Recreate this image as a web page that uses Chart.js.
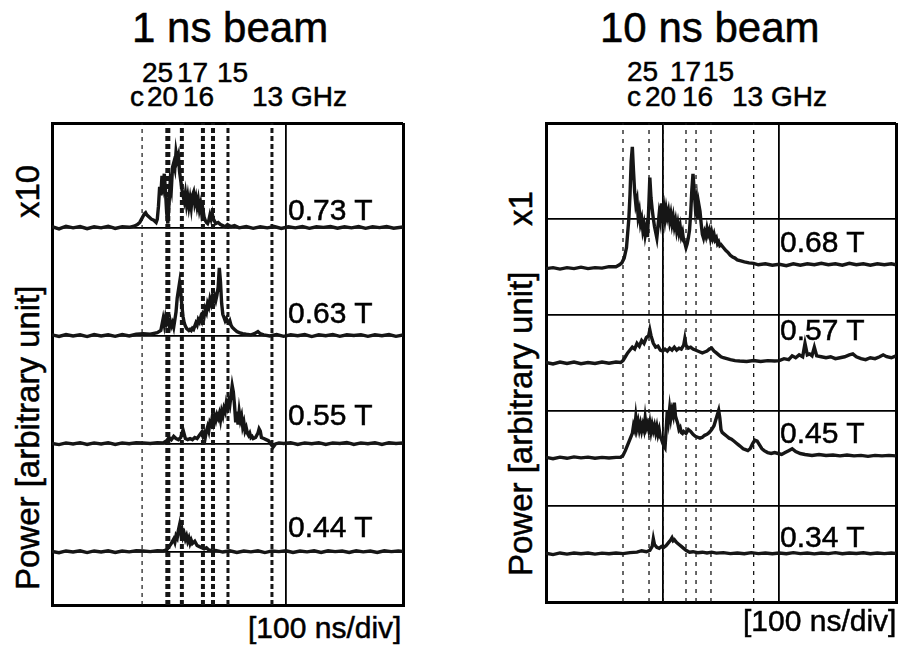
<!DOCTYPE html>
<html>
<head>
<meta charset="utf-8">
<script src="https://cdn.jsdelivr.net/npm/chart.js@4.4.1/dist/chart.umd.min.js"></script>
<style>
  body { margin: 0; background: #fff; width: 900px; height: 647px; position: relative; overflow: hidden;
         font-family: "Liberation Sans", Arial, sans-serif; color: #000; }
  canvas { position: absolute; }
  .t { position: absolute; white-space: nowrap; line-height: 1; -webkit-text-stroke: 0.5px #000; }
  .rot { transform-origin: 0 0; transform: rotate(-90deg); }
</style>
</head>
<body>
<canvas id="left" width="359" height="490" style="left:48px;top:119px"></canvas>
<canvas id="right" width="358" height="487" style="left:542px;top:119px"></canvas>
<script>
// time axis, ns (100 ns/div)
const timeTicks = [0, 100, 200, 300];

// frequency markers (dashed lines), GHz labels and their times
const freqLabels = ['c', '25', '20', '17', '16', '15', '13'];
const leftFreqTimes = [77, 99, 111, 129, 137.6, 150.4, 188];
const rightFreqTimes = [66, 88.3, 100.5, 120, 128.6, 141.4, 178];

const leftFields = ['0.73 T', '0.63 T', '0.55 T', '0.44 T'];
const rightFields = ['0.68 T', '0.57 T', '0.45 T', '0.34 T'];

// 1 ns beam traces, [time ns, power] (x10)
const left073 = [[0,0.01],[6,-0.01],[12,0.015],[18,0],[24,0.012],[30,-0.008],[36,0.01],[42,0],[48,0.015],[54,-0.005],[60,0.01],[66,0.005],[70,0.015],[73,0.03],[75,0.05],[77,0.09],[79,0.13],[80,0.14],[81,0.12],[83,0.1],[85,0.08],[87,0.07],[89,0.05],[90,0.08],[91,0.2],[92,0.38],[93,0.3],[94,0.48],[95,0.4],[96,0.5],[97,0.34],[98,0.14],[99,0.04],[100,0.22],[101,0.42],[102,0.36],[103,0.56],[104,0.6],[105,0.55],[106,0.7],[107,0.63],[108,0.67],[109,0.52],[110,0.44],[111,0.36],[112,0.3],[113,0.25],[114,0.32],[115,0.22],[116,0.29],[117,0.2],[118,0.27],[119,0.19],[120,0.3],[121,0.33],[122,0.23],[123,0.28],[124,0.2],[125,0.26],[126,0.17],[127,0.22],[128,0.13],[129,0.17],[130,0.1],[131,0.07],[132,0.05],[133,0.04],[134,0.07],[135,0.12],[136,0.08],[137,0.13],[138,0.08],[139,0.06],[140,0.04],[142,0.05],[144,0.03],[146,0.02],[148,0.01],[150,0.03],[153,0.01],[156,0.02],[160,0],[166,0.012],[172,-0.005],[178,0.01],[184,0],[190,0.012],[196,-0.006],[202,0.01],[208,0],[214,0.012],[220,-0.005],[226,0.01],[232,0.004],[238,0.012],[244,-0.004],[250,0.01],[256,0],[262,0.012],[268,-0.005],[274,0.01],[280,0.002],[286,0.012],[292,-0.004],[300,0.008]];
const left063 = [[0,0.01],[6,-0.005],[12,0.012],[18,0],[24,0.01],[30,-0.006],[36,0.012],[42,0],[48,0.01],[54,-0.004],[60,0.012],[66,0],[72,0.015],[78,0.02],[84,0.015],[90,0.03],[93,0.05],[95,0.16],[96,0.1],[97,0.17],[98,0.12],[99,0.15],[100,0.1],[101,0.14],[102,0.09],[103,0.12],[104,0.08],[105,0.15],[106,0.22],[107,0.35],[108,0.42],[109,0.49],[110,0.4],[111,0.28],[112,0.18],[113,0.12],[114,0.09],[115,0.07],[116,0.06],[117,0.05],[118,0.06],[119,0.05],[120,0.07],[121,0.06],[122,0.09],[123,0.12],[124,0.1],[125,0.15],[126,0.13],[127,0.17],[128,0.14],[129,0.2],[130,0.18],[131,0.25],[132,0.22],[133,0.3],[134,0.27],[135,0.34],[136,0.3],[137,0.36],[138,0.32],[139,0.37],[140,0.33],[141,0.38],[142,0.45],[143,0.63],[144,0.5],[145,0.3],[146,0.2],[147,0.17],[148,0.14],[149,0.16],[150,0.13],[151,0.12],[152,0.14],[153,0.1],[154,0.08],[156,0.06],[158,0.04],[160,0.03],[163,0.02],[166,0.015],[170,0.01],[173,0.02],[176,0.04],[178,0.02],[181,0.01],[186,0],[192,0.012],[198,-0.004],[204,0.01],[210,0.002],[216,0.012],[222,-0.006],[228,0.01],[234,0.002],[240,0.014],[246,-0.004],[252,0.01],[258,0.004],[264,0.012],[270,-0.004],[276,0.01],[282,0.002],[288,0.012],[294,-0.004],[300,0.008]];
const left055 = [[0,0.005],[6,-0.006],[12,0.01],[18,0],[24,0.012],[30,-0.005],[36,0.01],[42,0],[48,0.012],[54,-0.004],[60,0.01],[66,0.002],[72,0.012],[78,0.01],[84,0.005],[90,0.012],[95,0.01],[98,0.03],[100,0.06],[102,0.04],[104,0.07],[106,0.05],[108,0.04],[110,0.06],[112,0.13],[113,0.09],[114,0.05],[116,0.04],[118,0.05],[120,0.04],[122,0.06],[124,0.05],[126,0.08],[128,0.11],[129,0.07],[130,0.1],[131,0.06],[132,0.12],[133,0.16],[134,0.12],[135,0.2],[136,0.18],[137,0.25],[138,0.2],[139,0.26],[140,0.22],[141,0.27],[142,0.24],[143,0.28],[144,0.22],[145,0.3],[146,0.26],[147,0.33],[148,0.3],[149,0.38],[150,0.34],[151,0.4],[152,0.36],[153,0.45],[154,0.54],[155,0.48],[156,0.36],[157,0.2],[158,0.3],[159,0.18],[160,0.3],[161,0.22],[162,0.26],[163,0.16],[164,0.2],[165,0.12],[166,0.15],[167,0.1],[168,0.08],[169,0.1],[170,0.06],[171,0.07],[172,0.05],[174,0.06],[176,0.1],[177,0.14],[178,0.12],[179,0.06],[181,0.05],[183,0.04],[185,0.03],[187,0],[189,-0.03],[191,0],[194,0.01],[198,0.005],[204,0.012],[210,-0.004],[216,0.01],[222,0.002],[228,0.012],[234,-0.005],[240,0.01],[246,0.004],[252,0.014],[258,-0.004],[264,0.01],[270,0.002],[276,0.012],[282,-0.004],[288,0.012],[294,0.004],[300,0.01]];
const left044 = [[0,0.005],[6,-0.006],[12,0.01],[18,0],[24,0.012],[30,-0.005],[36,0.01],[42,0],[48,0.012],[54,-0.004],[60,0.01],[66,0.002],[72,0.012],[78,0.01],[84,0.004],[90,0.012],[95,0.01],[98,0.02],[100,0.05],[102,0.08],[104,0.12],[105,0.09],[106,0.15],[107,0.13],[108,0.2],[109,0.25],[110,0.18],[111,0.21],[112,0.14],[113,0.17],[114,0.12],[115,0.15],[116,0.1],[117,0.13],[118,0.08],[119,0.11],[120,0.08],[122,0.1],[124,0.06],[126,0.05],[128,0.04],[130,0.03],[132,0.04],[134,0.02],[137,0.01],[140,0.015],[146,0],[152,0.012],[158,-0.004],[164,0.01],[170,0.002],[176,0.012],[182,-0.005],[188,0.01],[194,0.004],[200,0.012],[206,-0.004],[212,0.01],[218,0.002],[224,0.012],[230,-0.004],[236,0.012],[242,0.004],[248,0.01],[254,-0.004],[260,0.012],[266,0.002],[272,0.01],[278,-0.004],[284,0.012],[290,0.004],[296,0.01],[300,0.006]];

// 10 ns beam traces, [time ns, power] (x1)
const right068 = [[0,-0.02],[6,-0.01],[12,-0.025],[18,-0.01],[24,-0.02],[30,-0.005],[36,-0.02],[42,-0.01],[48,-0.015],[54,0],[60,0],[63,0.02],[65,0.04],[67,0.09],[69,0.2],[70,0.35],[71,0.5],[72,0.75],[73,1.1],[74,1.25],[75,1.0],[76,0.78],[77,0.65],[78,0.7],[79,0.52],[80,0.58],[81,0.45],[82,0.5],[83,0.38],[84,0.44],[85,0.33],[86,0.4],[87,0.31],[88,0.6],[89,0.93],[90,0.72],[91,0.6],[92,0.5],[93,0.42],[94,0.36],[95,0.3],[96,0.42],[97,0.55],[98,0.48],[99,0.66],[100,0.55],[101,0.62],[102,0.5],[103,0.6],[104,0.52],[105,0.58],[106,0.48],[107,0.55],[108,0.45],[109,0.52],[110,0.42],[111,0.48],[112,0.38],[113,0.45],[114,0.36],[115,0.42],[116,0.32],[117,0.36],[118,0.27],[119,0.25],[120,0.2],[121,0.24],[122,0.3],[123,0.38],[124,0.55],[125,0.8],[126,0.97],[127,0.8],[128,0.62],[129,0.7],[130,0.5],[131,0.65],[132,0.58],[133,0.45],[134,0.34],[135,0.3],[136,0.36],[137,0.32],[138,0.4],[139,0.34],[140,0.38],[141,0.3],[142,0.36],[143,0.3],[144,0.34],[145,0.28],[146,0.3],[147,0.24],[148,0.26],[149,0.22],[150,0.23],[152,0.2],[154,0.17],[156,0.15],[158,0.12],[160,0.1],[162,0.09],[164,0.07],[167,0.06],[170,0.05],[174,0.04],[178,0.035],[182,0.02],[188,0.03],[194,0.015],[200,0.025],[206,0.01],[212,0.03],[218,0.015],[224,0.03],[230,0.02],[236,0.035],[242,0.02],[248,0.03],[254,0.015],[260,0.035],[266,0.02],[272,0.03],[278,0.015],[284,0.03],[290,0.02],[296,0.03],[300,0.02]];
const right057 = [[0,0],[6,-0.015],[12,0.005],[18,-0.01],[24,0.005],[30,-0.012],[36,0],[42,-0.01],[48,0.005],[54,-0.008],[60,0.005],[64,0],[66,0.02],[68,0.06],[70,0.1],[72,0.13],[74,0.16],[76,0.14],[78,0.2],[80,0.17],[82,0.23],[84,0.2],[86,0.26],[88,0.28],[89,0.34],[90,0.28],[91,0.24],[92,0.2],[94,0.16],[96,0.17],[98,0.13],[100,0.12],[102,0.14],[104,0.12],[106,0.15],[108,0.13],[110,0.16],[112,0.13],[114,0.15],[116,0.14],[118,0.18],[119,0.25],[120,0.18],[122,0.15],[124,0.16],[126,0.14],[128,0.13],[130,0.12],[132,0.11],[134,0.1],[136,0.11],[138,0.12],[140,0.14],[142,0.15],[144,0.12],[146,0.1],[148,0.08],[150,0.06],[152,0.05],[155,0.04],[158,0.03],[162,0.02],[166,0.015],[172,0.01],[178,0.02],[184,0.01],[190,0.02],[196,0.015],[200,0.02],[204,0.04],[208,0.03],[211,0.07],[214,0.05],[217,0.08],[220,0.06],[222,0.2],[224,0.08],[226,0.09],[228,0.07],[230,0.16],[232,0.07],[236,0.06],[240,0.05],[244,0.06],[248,0.04],[252,0.05],[256,0.06],[260,0.08],[263,0.09],[266,0.06],[270,0.04],[274,0.03],[278,0.05],[282,0.04],[286,0.06],[289,0.08],[292,0.06],[296,0.05],[300,0.07]];
const right045 = [[0,0.01],[6,-0.005],[12,0.012],[18,0],[24,0.015],[30,0.005],[36,0.012],[42,0],[48,0.01],[54,0.003],[60,0.01],[64,0.01],[66,0.03],[68,0.08],[70,0.14],[72,0.2],[74,0.26],[75,0.34],[76,0.3],[77,0.43],[78,0.32],[79,0.38],[80,0.3],[81,0.36],[82,0.29],[83,0.35],[84,0.3],[85,0.42],[86,0.32],[87,0.36],[88,0.3],[89,0.37],[90,0.28],[91,0.35],[92,0.29],[93,0.34],[94,0.27],[95,0.33],[96,0.25],[97,0.3],[98,0.22],[99,0.2],[100,0.16],[101,0.13],[102,0.11],[103,0.3],[104,0.5],[105,0.4],[106,0.52],[107,0.42],[108,0.5],[109,0.45],[110,0.58],[111,0.44],[112,0.4],[113,0.36],[114,0.3],[115,0.32],[116,0.27],[117,0.26],[118,0.28],[120,0.26],[122,0.3],[124,0.28],[126,0.25],[128,0.23],[130,0.22],[132,0.21],[134,0.22],[136,0.24],[138,0.25],[140,0.27],[142,0.3],[144,0.34],[146,0.42],[148,0.5],[149,0.42],[150,0.3],[151,0.27],[153,0.25],[155,0.23],[157,0.21],[159,0.2],[161,0.18],[163,0.16],[165,0.14],[167,0.12],[169,0.1],[171,0.09],[173,0.08],[175,0.1],[177,0.15],[179,0.19],[181,0.18],[183,0.14],[185,0.1],[187,0.08],[190,0.06],[193,0.05],[196,0.06],[199,0.05],[202,0.04],[205,0.06],[208,0.08],[211,0.1],[214,0.07],[218,0.05],[222,0.04],[228,0.03],[234,0.04],[240,0.03],[246,0.035],[252,0.025],[258,0.035],[264,0.025],[270,0.03],[276,0.02],[282,0.03],[288,0.025],[294,0.03],[300,0.025]];
const right034 = [[0,0.01],[6,-0.005],[12,0.012],[18,0],[24,0.012],[30,0.004],[36,0.012],[42,0],[48,0.01],[54,0.004],[60,0.012],[66,0.005],[72,0.015],[78,0.02],[82,0.035],[86,0.025],[89,0.04],[91,0.08],[92,0.16],[93,0.1],[95,0.07],[97,0.06],[99,0.08],[101,0.07],[103,0.09],[105,0.12],[107,0.15],[108,0.17],[109,0.14],[110,0.15],[112,0.12],[114,0.1],[116,0.08],[118,0.06],[120,0.04],[123,0.02],[126,0.025],[130,0.015],[134,0.02],[138,0.012],[142,0.02],[146,0.01],[152,0.015],[158,0.005],[164,0.012],[170,0.004],[176,0.015],[182,0.005],[188,0.012],[194,0.004],[200,0.012],[206,0.004],[212,0.015],[218,0.005],[224,0.012],[230,0.003],[236,0.012],[242,0.005],[248,0.015],[254,0.004],[260,0.012],[266,0.006],[272,0.014],[278,0.004],[284,0.012],[290,0.005],[296,0.012],[300,0.008]];

const INK = '#161616';

function traceSet(pairs, offset) {
  return {
    data: pairs.map(p => ({ x: p[0], y: p[1] + offset })),
    borderColor: INK, borderWidth: 3.4, pointRadius: 0, tension: 0
  };
}

function markerSet(t, yMin, yMax, width, dash) {
  return {
    data: [{ x: t, y: yMin }, { x: t, y: yMax }],
    borderColor: INK, borderWidth: width, borderDash: dash, pointRadius: 0
  };
}

function makePanel(id, traces, freqTimes, dashW, dash, yMin, yMax, yGrid, xGridOn) {
  const datasets = traces.map(tr => traceSet(tr[0], tr[1]));
  freqTimes.forEach((t, i) => datasets.push(markerSet(t, yMin, yMax, dashW[i], dash[i])));
  return new Chart(document.getElementById(id), {
    type: 'line',
    data: { datasets },
    options: {
      responsive: false, animation: false, events: [],
      layout: { padding: 4 },
      plugins: { legend: { display: false }, tooltip: { enabled: false } },
      scales: {
        x: {
          type: 'linear', min: timeTicks[0], max: timeTicks[timeTicks.length - 1],
          afterBuildTicks: s => { s.ticks = timeTicks.map(v => ({ value: v })); },
          ticks: { display: false },
          grid: {
            drawTicks: false, color: '#000',
            lineWidth: c => (c.index === 0 || c.index === timeTicks.length - 1) ? 3 : (xGridOn[c.index] ? 1.8 : 0)
          },
          border: { display: true, color: '#000', width: 3 }
        },
        y: {
          type: 'linear', min: yMin, max: yMax,
          afterBuildTicks: s => { s.ticks = [yMin, ...yGrid, yMax].map(v => ({ value: v })); },
          ticks: { display: false },
          grid: {
            drawTicks: false, color: '#000',
            lineWidth: c => (c.index === 0 || c.index === yGrid.length + 1) ? 3 : 1.8
          },
          border: { display: true, color: '#000', width: 3 }
        }
      }
    }
  });
}

makePanel('left',
  [[left073, 3], [left063, 2], [left055, 1], [left044, 0]],
  leftFreqTimes, [1.2, 5, 4, 4, 4, 3, 3],
  [[4, 4], [5, 3], [5, 3], [5, 3], [5, 3], [5, 3], [5, 3]],
  -0.49, 3.97, [0, 1, 2, 3], [false, false, true, false]);

makePanel('right',
  [[right068, 3], [right057, 2], [right045, 1], [right034, 0]],
  rightFreqTimes, [1.3, 1.3, 1.3, 1.3, 1.3, 1.3, 1.3],
  [[4, 5], [4, 5], [4, 5], [4, 5], [4, 5], [4, 5], [4, 5]],
  -0.5, 4.5, [0.5, 1.5, 2.5, 3.5], [false, true, true, false]);

// text layer: x = left edge, b = baseline
function addText(txt, x, b, size) {
  const d = document.createElement('div');
  d.className = 't';
  d.textContent = txt;
  d.style.fontSize = size + 'px';
  d.style.left = x + 'px';
  d.style.top = (b - 0.847 * size) + 'px';
  document.body.appendChild(d);
}
// rotated text reading upward, starting at y = bottom
function addVertical(txt, x, bottom, size) {
  const d = document.createElement('div');
  d.className = 't rot';
  d.textContent = txt;
  d.style.fontSize = size + 'px';
  d.style.left = x + 'px';
  d.style.top = bottom + 'px';
  document.body.appendChild(d);
}

addText('1 ns beam', 132, 43, 42);
addText('10 ns beam', 600, 43, 42);

// GHz labels: top row 25/17/15, bottom row c/20/16/13 GHz
const leftTop = [142, 177, 217], leftBot = [130, 147, 183, 252];
const rightTop = [627, 670, 703], rightBot = [627, 645, 682, 732];
[1, 3, 5].forEach((k, i) => {
  addText(freqLabels[k], leftTop[i], 83, 28);
  addText(freqLabels[k], rightTop[i], 82, 28);
});
[0, 2, 4, 6].forEach((k, i) => {
  const s = freqLabels[k] + (k === 6 ? ' GHz' : '');
  addText(s, leftBot[i], 107, 28);
  addText(s, rightBot[i], 107, 28);
});

[220, 323, 425, 537].forEach((b, i) => addText(leftFields[i], 288, b, 30));
[252, 340, 443, 547].forEach((b, i) => addText(rightFields[i], 780, b, 30));

addText('[100 ns/div]', 248, 638, 30);
addText('[100 ns/div]', 743, 631, 30);

addVertical('Power [arbitrary unit]', 11, 590, 33);
addVertical('x10', 11, 218, 33);
addVertical('Power [arbitrary unit]', 504, 576, 33);
addVertical('x1', 504, 226, 33);
</script>
</body>
</html>
